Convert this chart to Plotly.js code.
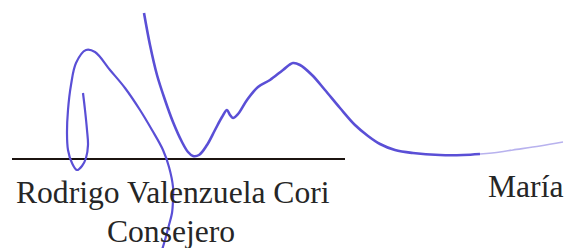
<!DOCTYPE html>
<html><head><meta charset="utf-8">
<script src="https://cdn.plot.ly/plotly-3.0.1.min.js"></script>
<style>html,body{margin:0;padding:0;background:#fff}#c{width:567px;height:248px}</style>
</head><body><div id="c"></div>
<script>
// Signature stroke 1 (loop + long descender), pixel coords
const stroke1X = [83,85,87,88,86,82,77,72,68,67,68,71,76,86,95,110,125,140,152,163,169,173,173,172,169,165,162];
const stroke1Y = [93,110,130,145,158,166,170,163,150,133,110,85,63,50,52,70,88,110,130,150,167,187,200,213,225,240,250];
// Signature stroke 2 (main wave)
const stroke2X = [144,150,157,165,173,182,188,193,199,207,215,222,227,230,233,238,247,258,270,283,293,300,312,325,340,355,368,380,395,413,440,463,480];
const stroke2Y = [13,45,75,100,122,142,152,156,155,145,130,117,110,115,118,114,100,87,80,70,63,65,75,90,108,125,136,144,150,153,155,155,154];
// Faded tail of stroke 2
const tailX = [480,500,513,540,563];
const tailY = [154,152,150,146,142];
// Signature line
const lineX = [12,345];
const lineY = [159,159];
// Texts
const nameText = "Rodrigo Valenzuela Cori";
const roleText = "Consejero";
const otherText = "María";

const ink = '#5a4fd6';
const data = [
  {x: lineX, y: lineY, mode:'lines', line:{color:'#1c1410', width:2.2}, hoverinfo:'skip'},
  {x: stroke1X, y: stroke1Y, mode:'lines', line:{color:ink, width:2.2, shape:'spline', smoothing:1}, hoverinfo:'skip'},
  {x: stroke2X, y: stroke2Y, mode:'lines', line:{color:ink, width:2.6, shape:'spline', smoothing:1}, hoverinfo:'skip'},
  {x: tailX, y: tailY, mode:'lines', line:{color:'#b8b2ee', width:1.6, shape:'spline', smoothing:1}, hoverinfo:'skip'}
];
const font = {family:'Liberation Serif, Times New Roman, serif', size:31.6, color:'#262626'};
const layout = {
  width:567, height:248, margin:{l:0,r:0,t:0,b:0},
  paper_bgcolor:'#fff', plot_bgcolor:'#fff', showlegend:false,
  xaxis:{range:[0,567], visible:false, fixedrange:true},
  yaxis:{range:[248,0], visible:false, fixedrange:true},
  annotations:[
    {x:14, y:192, xref:'x', yref:'y', text:nameText, showarrow:false, xanchor:'left', yanchor:'middle', font:font},
    {x:171, y:231, xref:'x', yref:'y', text:roleText, showarrow:false, xanchor:'center', yanchor:'middle', font:font},
    {x:486, y:186, xref:'x', yref:'y', text:otherText, showarrow:false, xanchor:'left', yanchor:'middle', font:font}
  ]
};
Plotly.newPlot('c', data, layout, {staticPlot:true, displayModeBar:false});
</script></body></html>
